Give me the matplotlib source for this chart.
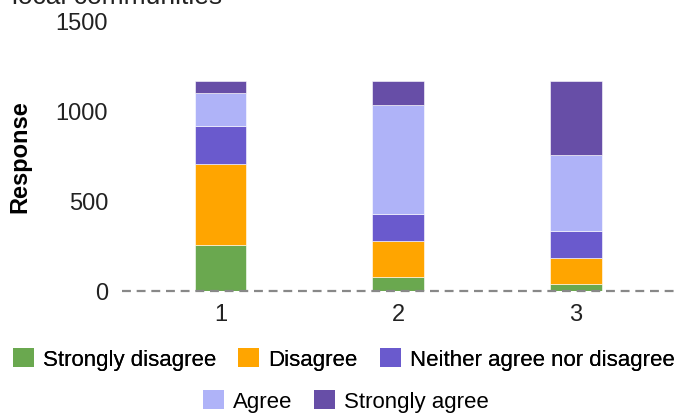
import matplotlib.pyplot as plt
from matplotlib.patches import Patch

plt.rcParams['font.family'] = ['Liberation Sans', 'DejaVu Sans']

# Responses per question, stacked by answer
questions = ['1', '2', '3']
answers = ['Strongly disagree', 'Disagree', 'Neither agree nor disagree',
           'Agree', 'Strongly agree']
strongly_disagree = [255, 76, 39]
disagree = [450, 204, 143]
neither = [210, 146, 151]
agree = [183, 607, 424]
strongly_agree = [67, 132, 408]
colors = ['#6aa84f', '#ffa500', '#6a5acd', '#afb3f8', '#674ea7']

series = [strongly_disagree, disagree, neither, agree, strongly_agree]

fig = plt.figure(figsize=(6.78, 4.14), dpi=100)
ax = fig.add_axes([0.18, 0.2947, 0.82, 0.6522])

x = [1, 2, 3]
bottom = [0, 0, 0]
for vals, c in zip(series, colors):
    ax.bar(x, vals, 0.29, bottom=bottom, color=c, edgecolor='#ffffff',
           linewidth=0.4)
    bottom = [b + v for b, v in zip(bottom, vals)]

ax.axhline(0, color='#888888', linewidth=1.6, linestyle=(0, (4, 2.6)),
           clip_on=False, zorder=3)

ax.set_xlim(0.446, 3.574)
ax.set_ylim(0, 1500)
ax.set_yticks([0, 500, 1000, 1500])
ax.set_xticks(x)
ax.set_xticklabels(questions)
ax.tick_params(axis='both', length=0, labelsize=17, labelcolor='#222222')
ax.tick_params(axis='x', pad=9)
ax.tick_params(axis='y', pad=10)
for s in ax.spines.values():
    s.set_visible(False)

fig.text(20 / 678, 1 - 157 / 414, 'Response', rotation=90, fontsize=17,
         fontweight='bold', ha='center', va='center')
fig.text(12 / 678, 1 - 4 / 414, 'local communities', fontsize=19,
         ha='left', va='baseline', color='#222222')

# Legend split over two centred rows
handles = [Patch(facecolor=c, edgecolor='none') for c in colors]
leg_kw = dict(frameon=False, fontsize=16, handlelength=0.95,
              handleheight=0.95, handletextpad=0.4, columnspacing=1.0)
leg1 = fig.legend(handles[:3], answers[:3], loc='center',
                  bbox_to_anchor=(0.507, 1 - 360 / 414), ncol=3, **leg_kw)
fig.legend(handles[3:], answers[3:], loc='center',
           bbox_to_anchor=(0.51, 1 - 402 / 414), ncol=2, **leg_kw)
fig.add_artist(leg1)

fig.savefig('out.png', dpi=100)
